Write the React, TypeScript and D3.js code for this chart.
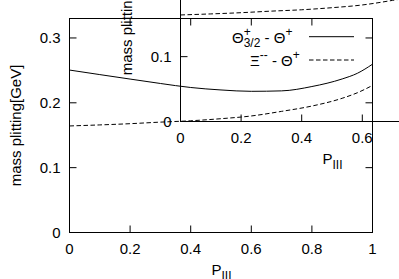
import React, { useEffect, useRef } from "react";
import * as d3 from "d3";

// momentum fraction P_III and the two mass splittings [GeV]
const pValues = [0, 0.1, 0.2, 0.3, 0.4, 0.5, 0.6, 0.7, 0.8, 0.9, 0.95, 1];
const thetaSplit = [0.2505, 0.2435, 0.2366, 0.2298, 0.2236, 0.2198, 0.2177, 0.2184, 0.2251, 0.2368, 0.2455, 0.2595];
const xiSplit = [0.1643, 0.1659, 0.1678, 0.1702, 0.1723, 0.1755, 0.1797, 0.1868, 0.195, 0.207, 0.2155, 0.2268];
const xTicks = [0, 0.2, 0.4, 0.6, 0.8, 1];
const yTicks = [0, 0.1, 0.2, 0.3];

const W = 399;
const H = 279;
const FONT = "'Liberation Sans', Arial, sans-serif";

export default function App() {
  const ref = useRef<SVGSVGElement>(null);

  useEffect(() => {
    const svg = d3.select(ref.current);
    svg.selectAll("*").remove();

    const drawPanel = (dx: number, dy: number) => {
      const left = 69.5, right = 372.5, top = 18.5, bottom = 232.5;
      const g = svg.append("g").attr("transform", `translate(${dx},${dy})`);
      const x = d3.scaleLinear().domain([0, 1]).range([left, right]);
      const y = d3.scaleLinear().domain([0, 0.33]).range([bottom, top]);
      const tl = 7;

      // ticks on all four sides (inward)
      xTicks.forEach((t) => {
        g.append("line").attr("x1", x(t)).attr("x2", x(t)).attr("y1", bottom).attr("y2", bottom - tl)
          .attr("stroke", "#000");
        g.append("line").attr("x1", x(t)).attr("x2", x(t)).attr("y1", top).attr("y2", top + tl)
          .attr("stroke", "#000");
        g.append("text").attr("x", x(t)).attr("y", bottom + 21).attr("text-anchor", "middle")
          .attr("font-size", 15).attr("font-family", FONT).text(d3.format("~g")(t));
      });
      yTicks.forEach((t) => {
        g.append("line").attr("x1", left).attr("x2", left + tl).attr("y1", y(t)).attr("y2", y(t))
          .attr("stroke", "#000");
        g.append("line").attr("x1", right).attr("x2", right - tl).attr("y1", y(t)).attr("y2", y(t))
          .attr("stroke", "#000");
        g.append("text").attr("x", left - 9).attr("y", y(t) + 5.5).attr("text-anchor", "end")
          .attr("font-size", 15).attr("font-family", FONT).text(d3.format("~g")(t));
      });
      g.append("rect").attr("x", left).attr("y", top).attr("width", right - left)
        .attr("height", bottom - top).attr("fill", "none").attr("stroke", "#000");

      const line = d3.line<number>()
        .x((_, i) => x(pValues[i]))
        .y((d) => y(d))
        .curve(d3.curveMonotoneX);
      g.append("path").attr("d", line(thetaSplit)).attr("fill", "none").attr("stroke", "#000");
      g.append("path").attr("d", line(xiSplit)).attr("fill", "none").attr("stroke", "#000")
        .attr("stroke-dasharray", "4.5,2.5");

      // axis labels
      const xl = g.append("text").attr("x", 211.5).attr("y", 275).attr("font-size", 15)
        .attr("font-family", FONT);
      xl.append("tspan").text("P");
      xl.append("tspan").attr("font-size", 12).attr("dy", 4.5).text("III");
      g.append("text").attr("transform", `translate(20.5,${(top + bottom) / 2}) rotate(-90)`)
        .attr("text-anchor", "middle").attr("font-size", 15).attr("font-family", FONT)
        .text("mass plitting[GeV]");

      // key
      const k1 = g.append("text").attr("x", 232).attr("y", 42.5).attr("font-size", 15)
        .attr("font-family", FONT);
      k1.append("tspan").text("Θ");
      k1.append("tspan").attr("font-size", 12).attr("dy", -6.5).text("+");
      k1.append("tspan").attr("font-size", 12).attr("dx", -7).attr("dy", 11.3).text("3/2");
      k1.append("tspan").attr("dy", -4.8).text(" - Θ");
      k1.append("tspan").attr("font-size", 12).attr("dy", -6.5).text("+");
      g.append("line").attr("x1", 309).attr("x2", 354).attr("y1", 36.7).attr("y2", 36.7)
        .attr("stroke", "#000");

      const k2 = g.append("text").attr("x", 250).attr("y", 65.5).attr("font-size", 15)
        .attr("font-family", FONT);
      k2.append("tspan").text("Ξ");
      k2.append("tspan").attr("font-size", 12).attr("dy", -6.5).text("--");
      k2.append("tspan").attr("dy", 6.5).text(" - Θ");
      k2.append("tspan").attr("font-size", 12).attr("dy", -6.5).text("+");
      g.append("line").attr("x1", 309).attr("x2", 354).attr("y1", 60).attr("y2", 60)
        .attr("stroke", "#000").attr("stroke-dasharray", "4.5,2.5");
    };

    drawPanel(0, 0);
    drawPanel(111, -111);
  }, []);

  return (
    <svg ref={ref} width={W} height={H}
      style={{ position: "fixed", left: 0, top: 0, background: "#fff" }} />
  );
}
